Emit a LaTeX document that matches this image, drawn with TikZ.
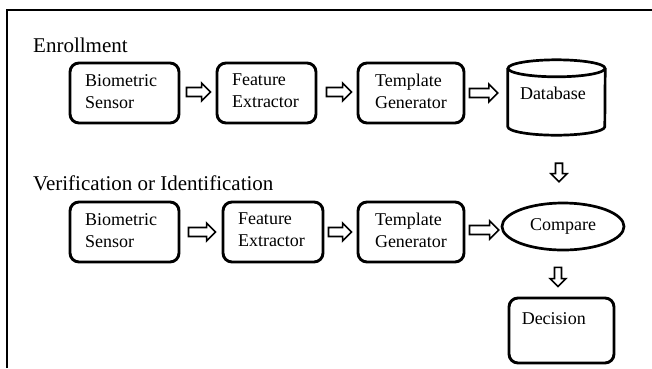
\documentclass[tikz,border=0pt]{standalone}
\usepackage{fontspec}
\setmainfont{Liberation Serif}
\usetikzlibrary{calc,shapes.geometric}
\newcommand\boxfont{\fontsize{18}{22}\selectfont}
\newcommand\headfont{\fontsize{21}{25}\selectfont}
% horizontal block arrow: #1 start coordinate, #2 end coordinate (y taken from #1)
\newcommand\harrow[2]{%
  \draw[blk] let \p1=(#1), \p2=(#2) in
    (\x1,\y1+4.5pt) -- (\x2-9pt,\y1+4.5pt) -- (\x2-9pt,\y1+9pt) -- (\x2,\y1)
    -- (\x2-9pt,\y1-9pt) -- (\x2-9pt,\y1-4.5pt) -- (\x1,\y1-4.5pt) -- cycle;}
% vertical (downward) block arrow: x taken from #1
\newcommand\varrow[2]{%
  \draw[blk] let \p1=(#1), \p2=(#2) in
    (\x1-3.5pt,\y1) -- (\x1-3.5pt,\y2+8pt) -- (\x1-8pt,\y2+8pt) -- (\x1,\y2)
    -- (\x1+8pt,\y2+8pt) -- (\x1+3.5pt,\y2+8pt) -- (\x1+3.5pt,\y1) -- cycle;}
\begin{document}
\begin{tikzpicture}[x=1pt,y=-1pt,
  box/.style={draw, line width=2.9pt, rounded corners=9pt, minimum height=60pt,
    align=left, font=\boxfont, inner ysep=0pt},
  blk/.style={draw, line width=1.6pt, fill=white, line join=miter},
  head/.style={anchor=base west, inner sep=0pt, font=\headfont}]
\useasboundingbox (0,0) rectangle (652,368);
\fill[white] (0,0) rectangle (652,368);
% frame
\draw[line width=2pt] (7,368) -- (7,10) -- (652,10);
% headings
\node[head] (enr) at (33,52) {Enrollment};
\node[head] (ver) at (33,190) {Verification or Identification};
% enrollment row
\node[box, inner xsep=15pt, text width=79pt] (s1) at (124.5,93) {Biometric\\Sensor\vphantom{g}};
\node[box, inner xsep=15pt, text width=69pt] (f1) at (266.5,93) {Feature\\Extractor\vphantom{g}};
\node[box, inner xsep=17pt, text width=72pt] (t1) at (411,93) {Template\\Generator\vphantom{g}};
\node[minimum width=97pt, minimum height=75pt, inner sep=0pt,
  label={[anchor=base west, inner sep=0pt, font=\boxfont, xshift=12pt, yshift=-40pt]north west:Database}]
  (db) at (556.5,97.5) {};
\draw[line width=2.7pt] ($(db.north west)+(0,8.5)$) -- ($(db.south west)+(0,-8.5)$)
  arc[start angle=180, end angle=360, x radius=48.5pt, y radius=8.5pt]
  -- ($(db.north east)+(0,8.5)$);
\draw[line width=2.7pt] ($(db.north)+(0,8.5)$) ellipse [x radius=48.5pt, y radius=8.5pt];
% verification row
\node[box, inner xsep=15pt, text width=79pt] (s2) at (124.5,232) {Biometric\\Sensor\vphantom{g}};
\node[box, inner xsep=15pt, text width=70pt] (f2) at (273,232) {Feature\\Extractor\vphantom{g}};
\node[box, inner xsep=17pt, text width=72pt] (t2) at (411,232) {Template\\Generator\vphantom{g}};
\node[ellipse, draw, line width=2.7pt, minimum width=122pt, minimum height=47pt, inner sep=0pt,
  font=\boxfont] (cmp) at (563,226.5) {Compare};
\node[draw, line width=2.9pt, rounded corners=9pt, minimum width=105pt, minimum height=65pt,
  inner sep=0pt,
  label={[anchor=base west, inner sep=0pt, font=\boxfont, xshift=14pt, yshift=-28pt]north west:Decision}]
  (dec) at (561.5,330.5) {};
% arrows row 1
\harrow{$(s1.east)+(6,-1)$}{$(f1.west)+(-5,0)$}
\harrow{$(f1.east)+(9,-1)$}{$(t1.west)+(-5,0)$}
\harrow{$(t1.east)+(4,0)$}{$(db.west)+(-10,0)$}
% arrows row 2
\harrow{$(s2.east)+(8,0)$}{$(f2.west)+(-6,0)$}
\harrow{$(f2.east)+(4,0)$}{$(t2.west)+(-5,0)$}
\harrow{$(t2.east)+(4,-2)$}{$(cmp.west)+(-2,0)$}
% vertical arrows
\varrow{$(db.south)+(2.5,28)$}{$(cmp.north)+(0,-20)$}
\varrow{$(cmp.south)+(-5,16)$}{$(dec.north)+(0,-10)$}
\end{tikzpicture}
\end{document}
